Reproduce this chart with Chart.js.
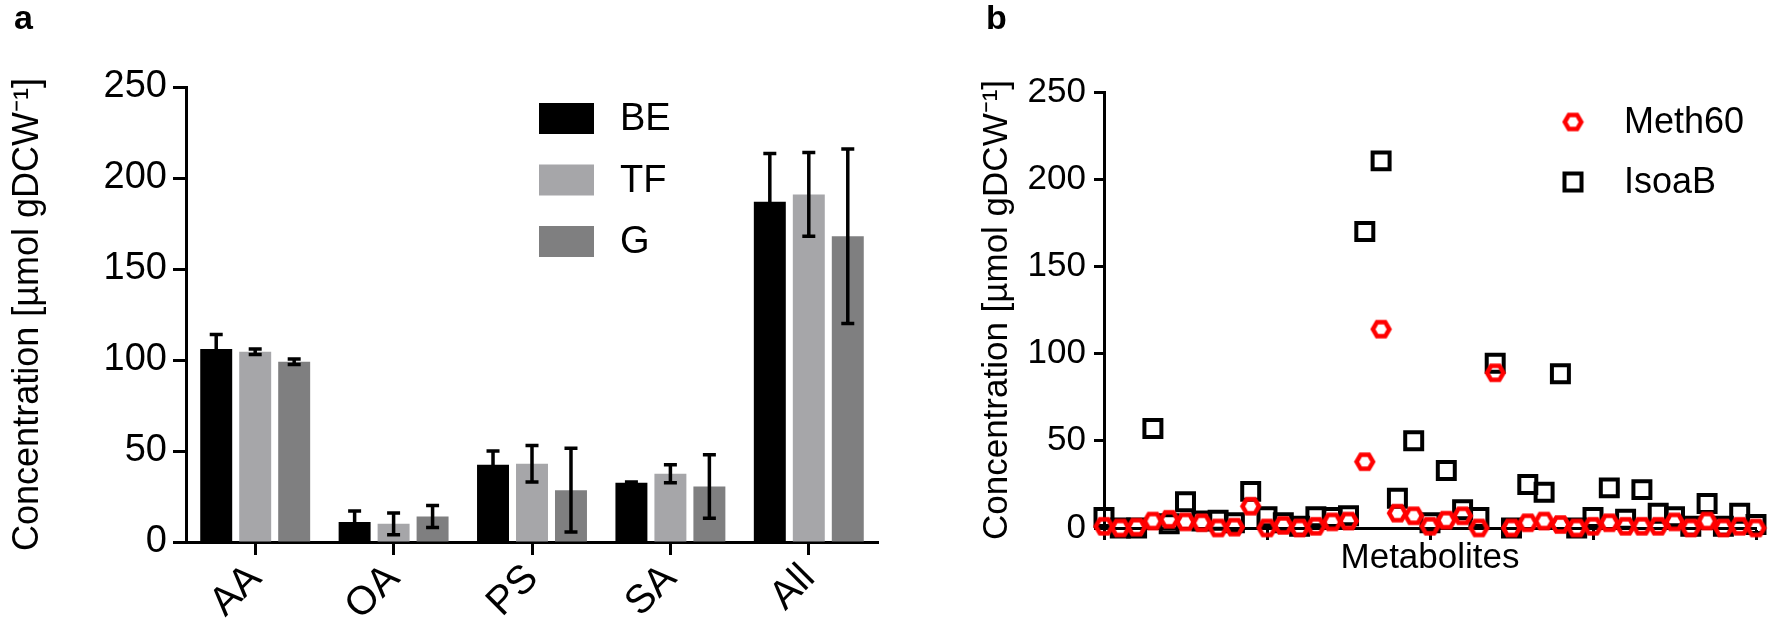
<!DOCTYPE html>
<html>
<head>
<meta charset="utf-8">
<script src="https://cdn.jsdelivr.net/npm/chart.js@4.4.1/dist/chart.umd.min.js"></script>
<style>
  html, body { margin: 0; padding: 0; background: #fff; }
  #wrap { position: relative; width: 1772px; height: 627px; overflow: hidden; }
  canvas { position: absolute; top: 0; }
  #chartA { left: 0; }
  #chartB { left: 880px; }
  .panel { position: absolute; font: bold 34px "Liberation Sans", Arial, sans-serif; line-height: 34px; }
</style>
</head>
<body>
<div id="wrap">
  <canvas id="chartA" width="880" height="627"></canvas>
  <canvas id="chartB" width="892" height="627"></canvas>
  <div class="panel" style="left:14px; top:0px;">a</div>
  <div class="panel" style="left:986px; top:0px;">b</div>
</div>
<script>
// panel a: mean concentration per class, with error (+/-)
const categories = ['AA', 'OA', 'PS', 'SA', 'All'];
const beMean = [106, 11, 42.5, 32.5, 187];
const beErr = [8, 6, 7.5, 0.5, 26.5];
const tfMean = [104.5, 10, 43, 37.5, 191];
const tfErr = [1.5, 6, 10, 5, 23];
const gMean = [99, 14, 28.5, 30.5, 168];
const gErr = [1.5, 6, 23, 17.5, 48];
const yTicksA = [0, 50, 100, 150, 200, 250];

// panel b: one value per metabolite (41 metabolites)
const meth60 = [1, 0, 0.5, 4, 5, 3.5, 3, 0, 0.5, 12.5, 0, 1.5, 0, 1, 3.5, 4, 38, 114, 8.5, 7,
    1, 4.5, 7, 0, 89, 0, 3, 4, 2, 0, 1, 3, 1, 1, 1, 3.5, 0, 4, 0, 1, 0];
const isoaB = [6, 0, 0, 57, 2.5, 15, 4, 4.5, 3, 21, 6.5, 3, 1, 6.5, 6, 7, 170, 210.5, 17, 50,
    3, 33, 10.5, 6, 94.5, 0, 25, 20.5, 88.5, 0, 6, 23, 5, 22, 8.5, 6.5, 1, 14, 1, 8.5, 2];
const yTicksB = [0, 50, 100, 150, 200, 250];

const FONT = '"Liberation Sans", Arial, sans-serif';
const yTitle = 'Concentration [\u00b5mol gDCW\u207b\u00b9]';

Chart.defaults.color = '#000';
Chart.defaults.font.family = FONT;
Chart.defaults.animation = false;

function makeHexagon(color, r, lw) {
    const size = Math.ceil(2 * r + lw + 2);
    const c = document.createElement('canvas');
    c.width = size;
    c.height = size;
    const g = c.getContext('2d');
    g.strokeStyle = color;
    g.lineWidth = lw;
    g.beginPath();
    for (let k = 0; k < 6; k++) {
        const a = Math.PI / 3 * k;
        const px = size / 2 + r * Math.cos(a);
        const py = size / 2 + r * Math.sin(a);
        if (k === 0) g.moveTo(px, py); else g.lineTo(px, py);
    }
    g.closePath();
    g.stroke();
    return c;
}

const hexagon = makeHexagon('#ff0000', 8.2, 4.5);

const errorBars = {
    id: 'errorBars',
    afterDatasetsDraw(chart) {
        const ctx = chart.ctx;
        const y = chart.scales.y;
        ctx.save();
        ctx.strokeStyle = '#000';
        ctx.lineWidth = 3.5;
        chart.data.datasets.forEach((ds, i) => {
            const meta = chart.getDatasetMeta(i);
            meta.data.forEach((bar, j) => {
                const top = y.getPixelForValue(ds.data[j] + ds.errors[j]);
                const bot = y.getPixelForValue(Math.max(ds.data[j] - ds.errors[j], 0));
                ctx.beginPath();
                ctx.moveTo(bar.x, top);
                ctx.lineTo(bar.x, bot);
                ctx.moveTo(bar.x - 6.5, top);
                ctx.lineTo(bar.x + 6.5, top);
                ctx.moveTo(bar.x - 6.5, bot);
                ctx.lineTo(bar.x + 6.5, bot);
                ctx.stroke();
            });
        });
        ctx.restore();
    }
};

const legendA = {
    id: 'legendA',
    afterDraw(chart) {
        const ctx = chart.ctx;
        ctx.save();
        ctx.font = '38px ' + FONT;
        ctx.textBaseline = 'middle';
        chart.data.datasets.forEach((ds, i) => {
            const top = 103 + i * 61.5;
            ctx.fillStyle = ds.backgroundColor;
            ctx.fillRect(539, top, 55, 31);
            ctx.fillStyle = '#000';
            ctx.fillText(ds.label, 620, top + 17);
        });
        ctx.restore();
    }
};

const legendB = {
    id: 'legendB',
    afterDraw(chart) {
        const ctx = chart.ctx;
        ctx.save();
        ctx.font = '36px ' + FONT;
        ctx.textBaseline = 'middle';
        ctx.fillStyle = '#000';
        ctx.drawImage(hexagon, 693 - hexagon.width / 2, 122 - hexagon.height / 2);
        ctx.fillText(chart.data.datasets[0].label, 744, 123);
        ctx.strokeStyle = '#000';
        ctx.lineWidth = 4;
        ctx.strokeRect(693 - 8.5, 182 - 8.5, 17, 17);
        ctx.fillText(chart.data.datasets[1].label, 744, 183);
        ctx.restore();
    }
};

new Chart(document.getElementById('chartA'), {
    type: 'bar',
    data: {
        labels: categories,
        datasets: [
            { label: 'BE', data: beMean, errors: beErr, backgroundColor: '#000000' },
            { label: 'TF', data: tfMean, errors: tfErr, backgroundColor: '#a6a6a9' },
            { label: 'G', data: gMean, errors: gErr, backgroundColor: '#7f7f80' },
        ],
    },
    options: {
        responsive: false,
        layout: { padding: { top: 87, right: 2, left: 0, bottom: 0 } },
        datasets: { bar: { categoryPercentage: 0.845, barPercentage: 0.82 } },
        plugins: { legend: { display: false }, tooltip: { enabled: false } },
        scales: {
            x: {
                grid: { drawOnChartArea: false, offset: false, tickLength: 13, tickWidth: 3, tickColor: '#000' },
                border: { color: '#000', width: 3 },
                ticks: { font: { size: 40 }, maxRotation: 45, minRotation: 45, padding: 0 },
                afterFit(scale) { scale.height = 85; },
            },
            y: {
                min: 0,
                max: 250,
                afterBuildTicks(scale) { scale.ticks = yTicksA.map(v => ({ value: v })); },
                grid: { drawOnChartArea: false, tickLength: 13, tickWidth: 3, tickColor: '#000' },
                border: { color: '#000', width: 3 },
                ticks: { font: { size: 38 }, padding: 6 },
                title: { display: true, text: yTitle, font: { size: 36 }, padding: { top: 6, bottom: 0 } },
                afterFit(scale) { scale.width = 186; },
            },
        },
    },
    plugins: [errorBars, legendA],
});

new Chart(document.getElementById('chartB'), {
    type: 'scatter',
    data: {
        datasets: [
            {
                label: 'Meth60',
                data: meth60.map((v, i) => ({ x: i, y: v })),
                pointStyle: hexagon,
                pointRadius: 9,
                clip: false,
            },
            {
                label: 'IsoaB',
                data: isoaB.map((v, i) => ({ x: i, y: v })),
                pointStyle: 'rect',
                pointRadius: 12,
                borderWidth: 4,
                borderColor: '#000',
                backgroundColor: 'rgba(0,0,0,0)',
                clip: false,
            },
        ],
    },
    options: {
        responsive: false,
        layout: { padding: { top: 92, right: 13, left: 0, bottom: 0 } },
        plugins: { legend: { display: false }, tooltip: { enabled: false } },
        scales: {
            x: {
                type: 'linear',
                min: 0,
                max: 40,
                ticks: { stepSize: 10, display: false },
                grid: { drawOnChartArea: false, tickLength: 12, tickWidth: 3, tickColor: '#000' },
                border: { color: '#000', width: 3 },
                title: { display: true, text: 'Metabolites', font: { size: 35 }, padding: { top: 0, bottom: 48 } },
                afterFit(scale) { scale.height = 99; },
            },
            y: {
                min: 0,
                max: 250,
                afterBuildTicks(scale) { scale.ticks = yTicksB.map(v => ({ value: v })); },
                grid: { drawOnChartArea: false, tickLength: 10, tickWidth: 3, tickColor: '#000' },
                border: { color: '#000', width: 3 },
                ticks: { font: { size: 35 }, padding: 8 },
                title: { display: true, text: yTitle, font: { size: 35 }, padding: { top: 96, bottom: 0 } },
                afterFit(scale) { scale.width = 224; },
            },
        },
    },
    plugins: [legendB],
});
</script>
</body>
</html>
